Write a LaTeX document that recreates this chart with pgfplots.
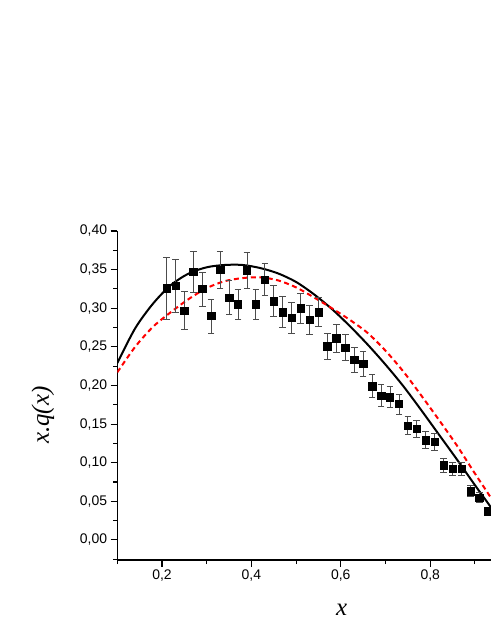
\documentclass[border=0pt]{standalone}
\usepackage{fontspec}
\setmainfont{Liberation Sans}
\newfontfamily\labelfont{Liberation Serif}
\usepackage{pgfplots}
\usepackage{pgfplotstable}
\pgfplotsset{compat=1.18}

% measured points with symmetric errors
\pgfplotstableread{
x     y      e
0.21  0.326  0.040
0.23  0.329  0.034
0.25  0.297  0.025
0.27  0.347  0.026
0.29  0.325  0.022
0.31  0.290  0.022
0.33  0.350  0.024
0.35  0.314  0.022
0.37  0.305  0.020
0.39  0.349  0.023
0.41  0.305  0.020
0.43  0.337  0.021
0.45  0.309  0.020
0.47  0.295  0.020
0.49  0.288  0.020
0.51  0.300  0.019
0.53  0.285  0.019
0.55  0.295  0.019
0.57  0.251  0.017
0.59  0.261  0.018
0.61  0.249  0.017
0.63  0.233  0.016
0.65  0.228  0.016
0.67  0.199  0.015
0.69  0.187  0.014
0.71  0.185  0.014
0.73  0.176  0.013
0.75  0.148  0.012
0.77  0.144  0.011
0.79  0.129  0.011
0.81  0.127  0.011
0.83  0.097  0.009
0.85  0.092  0.008
0.87  0.092  0.008
0.89  0.063  0.007
0.91  0.055  0.006
0.93  0.037  0.005
}\datapts

% solid curve
\pgfplotstableread{
x      y
0.10   0.229
0.14   0.274
0.18   0.306
0.22   0.330
0.26   0.345
0.30   0.353
0.34   0.356
0.38   0.356
0.42   0.352
0.46   0.345
0.50   0.334
0.54   0.318
0.58   0.299
0.62   0.277
0.66   0.253
0.70   0.227
0.74   0.199
0.78   0.168
0.82   0.136
0.86   0.104
0.90   0.071
0.94   0.039
}\fitsolid

% dashed curve
\pgfplotstableread{
x      y
0.10   0.217
0.14   0.250
0.18   0.276
0.22   0.295
0.26   0.312
0.30   0.326
0.34   0.335
0.38   0.339
0.42   0.340
0.46   0.336
0.50   0.327
0.54   0.314
0.58   0.300
0.62   0.285
0.66   0.268
0.70   0.245
0.74   0.218
0.78   0.187
0.82   0.155
0.86   0.122
0.90   0.086
0.94   0.051
}\fitdashed

\begin{document}
\begin{tikzpicture}
\path[use as bounding box] (-117.3bp,-75bp) rectangle (373.7bp,560bp);
\begin{axis}[
  scale only axis,
  width=373.7bp, height=329bp,
  xmin=0.1, xmax=0.936,
  ymin=-0.026, ymax=0.40,
  axis x line*=bottom,
  axis y line*=left,
  axis line style={line width=1.3bp},
  tick align=outside,
  major tick length=6.7bp,
  minor tick length=4bp,
  every tick/.style={black, line width=1.1bp},
  xtick={0.2,0.4,0.6,0.8},
  minor xtick={0.1,0.3,0.5,0.7,0.9},
  ytick={0,0.05,0.10,0.15,0.20,0.25,0.30,0.35,0.40},
  minor ytick={-0.025,0.025,0.075,0.125,0.175,0.225,0.275,0.325,0.375},
  tick label style={font=\fontsize{14}{16}\selectfont},
  x tick label style={/pgf/number format/.cd, fixed, fixed zerofill,
    precision=1, use comma, assume math mode=true},
  y tick label style={/pgf/number format/.cd, fixed, fixed zerofill,
    precision=2, use comma, assume math mode=true},
  xlabel={\labelfont\itshape x},
  xlabel style={at={(axis description cs:0.6005,0)}, anchor=base,
    yshift=-55bp, font=\fontsize{25}{28}\selectfont},
  ylabel={\labelfont\itshape x.q(x)},
  ylabel style={at={(axis description cs:-0.1988,0.44)}, anchor=center,
    font=\fontsize{25}{28}\selectfont},
]
\addplot[black, line width=2bp, smooth, no marks] table[x=x, y=y] {\fitsolid};
\addplot[red, line width=2bp, dash pattern=on 5bp off 3.5bp, smooth, no marks]
  table[x=x, y=y] {\fitdashed};
\addplot[only marks, mark=square*, mark size=3.7bp, black,
  error bars/.cd, y dir=both, y explicit,
  error bar style={gray!60!black, line width=0.8bp},
  error mark options={rotate=90, mark size=3.3bp, gray!60!black, line width=0.8bp}]
  table[x=x, y=y, y error=e] {\datapts};
\end{axis}
\end{tikzpicture}
\end{document}
